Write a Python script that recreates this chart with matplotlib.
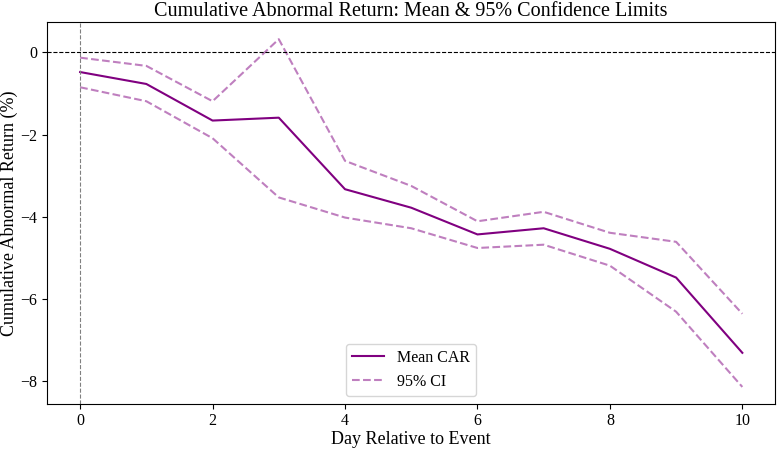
import matplotlib
matplotlib.use("Agg")
import matplotlib.pyplot as plt

plt.rcParams['font.family'] = ['Liberation Serif', 'DejaVu Serif']
plt.rcParams['mathtext.fontset'] = 'stix'

days = list(range(11))
mean_car = [-0.48, -0.77, -1.66, -1.59, -3.33, -3.78, -4.43, -4.28, -4.78, -5.48, -7.31]
upper_ci = [-0.13, -0.33, -1.19, 0.32, -2.64, -3.25, -4.11, -3.88, -4.39, -4.61, -6.36]
lower_ci = [-0.85, -1.19, -2.09, -3.53, -4.02, -4.28, -4.76, -4.68, -5.19, -6.31, -8.14]

fig = plt.figure(figsize=(7.77, 4.49), dpi=100)
ax = fig.add_axes([0.0605, 0.0995, 0.9375, 0.852])

ax.plot(days, mean_car, color='purple', lw=1.5, label='Mean CAR')
ax.plot(days, upper_ci, color='purple', alpha=0.5, ls='--', lw=1.5, label='95% CI')
ax.plot(days, lower_ci, color='purple', alpha=0.5, ls='--', lw=1.5)
ax.axhline(0, color='black', ls='--', lw=0.8)
ax.axvline(0, color='gray', ls='--', lw=0.8)

ax.set_xticks([0, 2, 4, 6, 8, 10])
ax.set_yticks([0, -2, -4, -6, -8])
ax.tick_params(labelsize=11.5)
ax.tick_params(axis='x', pad=2.5)
ax.set_xlabel('Day Relative to Event', fontsize=13, labelpad=2)
ax.set_ylabel('Cumulative Abnormal Return (%)', fontsize=13, labelpad=2)
ax.set_title('Cumulative Abnormal Return: Mean & 95% Confidence Limits', fontsize=14.5, pad=4.5)
ax.legend(loc='lower center', fontsize=11.5)

fig.savefig('out.png', dpi=100)
